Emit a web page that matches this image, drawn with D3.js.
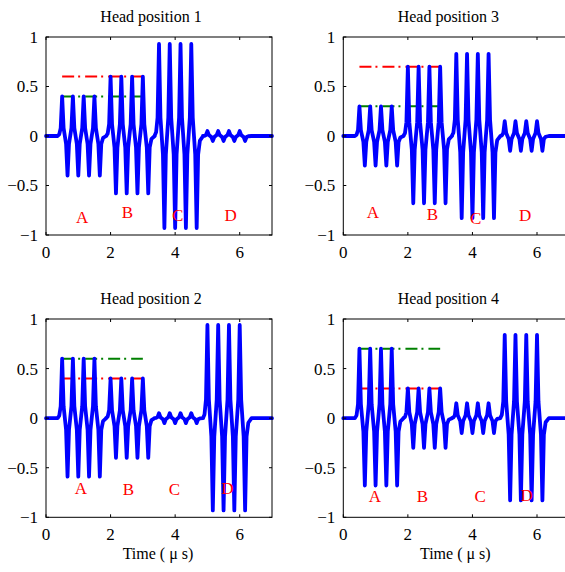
<html lang="en">
<head>
<meta charset="UTF-8"/>
<title>Head positions</title>
<script src="https://d3js.org/d3.v7.min.js"></script>
<style>
  body { margin: 0; background: #fff; }
  svg { display: block; }
  text { font-family: 'Liberation Serif', 'Times New Roman', serif; fill: #000; }
  .tick-label { font-size: 17px; }
  .title { font-size: 16px; }
  .xlabel { font-size: 16px; }
  .region { font-size: 17px; fill: #ff0000; }
  .frame { fill: none; stroke: #000; stroke-width: 1; }
  .tick { stroke: #000; stroke-width: 1; }
  .wave { fill: none; stroke: #0000ff; stroke-width: 3.8; stroke-linejoin: round; stroke-linecap: round; }
</style>
</head>
<body>
<svg width="565" height="572"></svg>
<script>
// panels in drawing order: top-left, top-right, bottom-left, bottom-right
const titles = ['Head position 1', 'Head position 3', 'Head position 2', 'Head position 4'];
const xTicks = [0, 2, 4, 6];
const yTicks = [-1, -0.5, 0, 0.5, 1];
const yTickLabels = ['\u22121', '\u22120.5', '0', '0.5', '1'];
const xTickLabels = ['0', '2', '4', '6'];

const regionNames = ['A', 'B', 'C', 'D'];
const regionStarts = [0.5, 2.0, 3.5, 5.0];
// time of each extremum inside a region (µs after region start)
const pulseOffsets = [0, 0.167, 0.333, 0.5, 0.667, 0.833, 1.0, 1.167];

// positive / negative peak per region A..D
const peaksH1 = [0.4, 0.6, 0.93, 0.05];
const troughsH1 = [-0.4, -0.58, -0.93, -0.05];
const peaksH3 = [0.3, 0.7, 0.83, 0.15];
const troughsH3 = [-0.3, -0.68, -0.83, -0.15];
const peaksH2 = [0.6, 0.4, 0.05, 0.94];
const troughsH2 = [-0.59, -0.4, -0.05, -0.93];
const peaksH4 = [0.7, 0.3, 0.15, 0.84];
const troughsH4 = [-0.68, -0.3, -0.15, -0.83];

// reference levels (dash-dot), drawn from t=0.5 to t=3
const refRed = [0.6, 0.7, 0.4, 0.3];
const refGreen = [0.4, 0.3, 0.6, 0.7];
const refStart = 0.5, refEnd = 3.0;

// region letter positions (data units)
const labelX = [[1.12, 2.52, 4.08, 5.72], [0.92, 2.76, 4.1, 5.63], [1.08, 2.55, 3.98, 5.62], [0.98, 2.45, 4.24, 5.68]];
const labelY = [[-0.82, -0.77, -0.8, -0.8], [-0.77, -0.79, -0.83, -0.8], [-0.7, -0.72, -0.72, -0.7], [-0.79, -0.79, -0.79, -0.78]];

const peaks = [peaksH1, peaksH3, peaksH2, peaksH4];
const troughs = [troughsH1, troughsH3, troughsH2, troughsH4];

const boxes = [
  { left: 46, top: 37, width: 226, height: 198, xlabel: false },
  { left: 343.3, top: 37, width: 226, height: 198, xlabel: false },
  { left: 46, top: 319, width: 226, height: 198.3, xlabel: true },
  { left: 343.3, top: 319, width: 226, height: 198.3, xlabel: true }
];

const svg = d3.select('svg');

function waveVertices(p) {
  const pts = [[0, 0]];
  regionStarts.forEach((t0, r) => {
    const ext = pulseOffsets.map((o, k) => [t0 + o, k % 2 === 0 ? peaks[p][r] : troughs[p][r]]);
    const a0 = ext[0][1];
    pts.push([t0 - 0.14, 0]);
    pts.push([t0 - 0.09, 0.04 * a0]);
    pts.push([t0 - 0.045, 0.2 * a0]);
    ext.forEach((e, k) => {
      pts.push(e);
      if (k < ext.length - 1) {
        pts.push([e[0] + 0.045, 0.2 * e[1]]);
        pts.push([ext[k + 1][0] - 0.045, 0.2 * ext[k + 1][1]]);
      }
    });
    const last = ext[ext.length - 1];
    pts.push([last[0] + 0.045, 0.2 * last[1]]);
    pts.push([last[0] + 0.1, 0.05 * last[1]]);
    pts.push([last[0] + 0.2, 0]);
  });
  pts.push([7, 0]);
  return pts;
}

boxes.forEach((b, p) => {
  const x = d3.scaleLinear().domain([0, 7]).range([b.left, b.left + b.width]);
  const y = d3.scaleLinear().domain([-1, 1]).range([b.top + b.height, b.top]);
  const g = svg.append('g');

  // reference lines
  [[refRed[p], '#ff0000'], [refGreen[p], '#008000']].forEach(([v, c]) => {
    g.append('line')
      .attr('x1', x(refStart)).attr('x2', x(refEnd))
      .attr('y1', y(v)).attr('y2', y(v))
      .attr('stroke', c).attr('stroke-width', 2)
      .attr('stroke-dasharray', '12,4,2,5');
  });

  // waveform
  const line = d3.line().x(d => x(d[0])).y(d => y(d[1]));
  g.append('path').attr('class', 'wave').attr('d', line(waveVertices(p)));

  // region labels
  regionNames.forEach((n, r) => {
    g.append('text').attr('class', 'region')
      .attr('x', x(labelX[p][r])).attr('y', y(labelY[p][r]))
      .attr('text-anchor', 'middle').attr('dy', '0.35em')
      .text(n);
  });

  // frame + inward ticks
  g.append('rect').attr('class', 'frame')
    .attr('x', b.left).attr('y', b.top).attr('width', b.width).attr('height', b.height);
  const tl = 3;
  xTicks.forEach((t, i) => {
    g.append('line').attr('class', 'tick').attr('x1', x(t)).attr('x2', x(t))
      .attr('y1', b.top + b.height).attr('y2', b.top + b.height - tl);
    g.append('line').attr('class', 'tick').attr('x1', x(t)).attr('x2', x(t))
      .attr('y1', b.top).attr('y2', b.top + tl);
    g.append('text').attr('class', 'tick-label')
      .attr('x', x(t)).attr('y', b.top + b.height + 23)
      .attr('text-anchor', 'middle').text(xTickLabels[i]);
  });
  yTicks.forEach((t, i) => {
    g.append('line').attr('class', 'tick').attr('x1', b.left).attr('x2', b.left + tl)
      .attr('y1', y(t)).attr('y2', y(t));
    g.append('line').attr('class', 'tick').attr('x1', b.left + b.width).attr('x2', b.left + b.width - tl)
      .attr('y1', y(t)).attr('y2', y(t));
    g.append('text').attr('class', 'tick-label')
      .attr('x', b.left - 8).attr('y', y(t)).attr('dy', '0.35em')
      .attr('text-anchor', 'end').text(yTickLabels[i]);
  });

  // title
  g.append('text').attr('class', 'title')
    .attr('x', b.left + b.width / 2 - 8).attr('y', b.top - 15)
    .attr('text-anchor', 'middle').text(titles[p]);

  if (b.xlabel) {
    g.append('text').attr('class', 'xlabel')
      .attr('x', b.left + b.width / 2 - 1).attr('y', 559)
      .attr('text-anchor', 'middle').text('Time ( \u03bc s)');
  }
});
</script>
</body>
</html>
